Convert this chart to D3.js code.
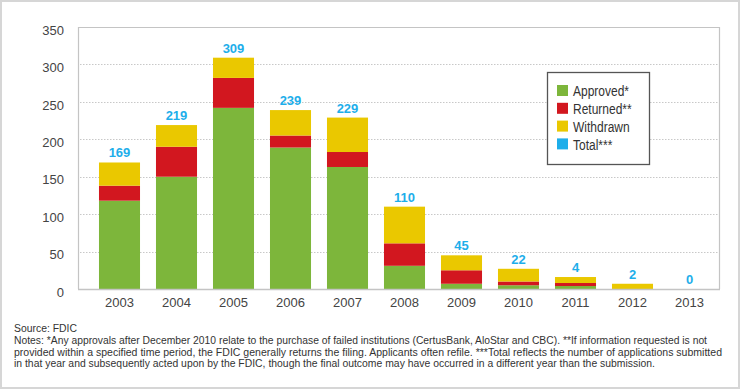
<!DOCTYPE html>
<html>
<head>
<meta charset="utf-8">
<script src="https://cdn.jsdelivr.net/npm/d3@7"></script>
<style>
  html, body { margin: 0; padding: 0; background: #fff; }
  svg { display: block; }
</style>
</head>
<body>
<script>
const years = ['2003', '2004', '2005', '2006', '2007', '2008', '2009', '2010', '2011', '2012', '2013'];
const approved = [118, 150, 242, 189, 163, 31, 7, 5, 4, 0, 0];
const returned = [20, 40, 40, 16, 20, 30, 18, 5, 4, 0, 0];
const withdrawn = [31, 29, 27, 34, 46, 49, 20, 17, 8, 7, 0];
const totals = [169, 219, 309, 239, 229, 110, 45, 22, 4, 2, 0];
const yTicks = [0, 50, 100, 150, 200, 250, 300, 350];
const seriesNames = ['Approved*', 'Returned**', 'Withdrawn', 'Total***'];
const seriesKeys = ['approved', 'returned', 'withdrawn'];
const sourceText = 'Source: FDIC';
const noteLines = [
    'Notes: *Any approvals after December 2010 relate to the purchase of failed institutions (CertusBank, AloStar and CBC). **If information requested is not',
    'provided within a specified time period, the FDIC generally returns the filing. Applicants often refile. ***Total reflects the number of applications submitted',
    'in that year and subsequently acted upon by the FDIC, though the final outcome may have occurred in a different year than the submission.'
];

const colors = {
    approved: '#7db63b',
    returned: '#d2171f',
    withdrawn: '#eac800',
    total: '#1eaeea'
};

function draw() {
    const width = 740;
    const height = 389;
    const plot = { left: 78, right: 719, top: 27, bottom: 289 };

    const rows = years.map((y, i) => ({
        year: y,
        approved: approved[i],
        returned: returned[i],
        withdrawn: withdrawn[i],
        total: totals[i]
    }));

    const x = d3.scaleBand()
        .domain(years)
        .range([91, 718])
        .paddingInner(0.28)
        .paddingOuter(0.14);
    const y = d3.scaleLinear().domain([0, 350]).range([plot.bottom, plot.top]);

    const svg = d3.select('body')
        .append('svg')
        .attr('width', width)
        .attr('height', height);

    // outer frame
    svg.append('rect')
        .attr('x', 1).attr('y', 1)
        .attr('width', width - 2).attr('height', height - 2)
        .attr('fill', '#fff')
        .attr('stroke', '#d6d6d6')
        .attr('stroke-width', 2);

    // dotted grid lines
    svg.append('g')
        .selectAll('line')
        .data(yTicks.filter(d => d > 0 && d < 350))
        .enter()
        .append('line')
        .attr('x1', plot.left + 2)
        .attr('x2', plot.right - 1)
        .attr('y1', d => Math.round(y(d)) + 0.5)
        .attr('y2', d => Math.round(y(d)) + 0.5)
        .attr('stroke', '#c8c8c8')
        .attr('stroke-dasharray', '1.5,1.5');

    // plot frame
    svg.append('path')
        .attr('d', `M${plot.left + 0.5},${plot.bottom}V${plot.top + 0.5}H${plot.right + 0.5}V${plot.bottom}`)
        .attr('fill', 'none')
        .attr('stroke', '#c4c4c4')
        .attr('stroke-width', 1.2);

    // stacked bars
    const stack = d3.stack().keys(seriesKeys)(rows);
    svg.append('g')
        .selectAll('g')
        .data(stack)
        .enter()
        .append('g')
        .attr('fill', d => colors[d.key])
        .selectAll('rect')
        .data(d => d)
        .enter()
        .append('rect')
        .attr('x', d => x(d.data.year))
        .attr('width', x.bandwidth())
        .attr('y', d => y(d[1]))
        .attr('height', d => y(d[0]) - y(d[1]));

    // baseline
    svg.append('line')
        .attr('x1', plot.left)
        .attr('x2', plot.right + 1)
        .attr('y1', plot.bottom + 0.5)
        .attr('y2', plot.bottom + 0.5)
        .attr('stroke', '#c4c4c4')
        .attr('stroke-width', 1.5);

    // total labels
    const top = stack[stack.length - 1];
    svg.append('g')
        .selectAll('text')
        .data(rows)
        .enter()
        .append('text')
        .attr('x', d => x(d.year) + x.bandwidth() / 2)
        .attr('y', (d, i) => y(top[i][1]) - 5)
        .attr('text-anchor', 'middle')
        .attr('font-family', 'Liberation Sans, Arial, sans-serif')
        .attr('font-weight', 'bold')
        .attr('font-size', 13)
        .attr('fill', colors.total)
        .text(d => d.total);

    // y axis
    const yAxis = d3.axisLeft(y).tickValues(yTicks).tickSize(0).tickPadding(14);
    const gy = svg.append('g')
        .attr('transform', 'translate(' + plot.left + ',0)')
        .call(yAxis);
    gy.select('.domain').remove();
    gy.selectAll('text')
        .attr('font-family', 'Liberation Sans, Arial, sans-serif')
        .attr('font-size', 13)
        .attr('fill', '#444')
        .attr('dy', '0.55em');

    // x axis
    const xAxis = d3.axisBottom(x).tickSize(0).tickPadding(9);
    const gx = svg.append('g')
        .attr('transform', 'translate(0,' + plot.bottom + ')')
        .call(xAxis);
    gx.select('.domain').remove();
    gx.selectAll('text')
        .attr('font-family', 'Liberation Sans, Arial, sans-serif')
        .attr('font-size', 13)
        .attr('fill', '#444');

    // legend
    const legend = svg.append('g').attr('transform', 'translate(547,72)');
    legend.append('rect')
        .attr('x', 0.5).attr('y', 0.5)
        .attr('width', 102).attr('height', 92)
        .attr('fill', '#fff')
        .attr('stroke', '#555')
        .attr('stroke-width', 1.3);
    const legendColors = [colors.approved, colors.returned, colors.withdrawn, colors.total];
    const items = legend.selectAll('g.item')
        .data(seriesNames)
        .enter()
        .append('g')
        .attr('class', 'item')
        .attr('transform', (d, i) => 'translate(10,' + (19 + i * 17.8) + ')');
    items.append('rect')
        .attr('x', 0).attr('y', -6)
        .attr('width', 11).attr('height', 11)
        .attr('fill', (d, i) => legendColors[i]);
    // condensed look: squeeze the regular face horizontally
    items.append('text')
        .attr('transform', 'translate(16,0) scale(0.8,1)')
        .attr('dy', '0.36em')
        .attr('font-family', 'Liberation Sans, Arial, sans-serif')
        .attr('font-size', 15)
        .attr('fill', '#333')
        .text(d => d);

    // source & notes (narrow face faked with a horizontal squeeze)
    const squeeze = 0.8;
    const noteWidths = [693, 708, 641];
    const notes = svg.append('g')
        .attr('transform', 'translate(14,0) scale(' + squeeze + ',1)')
        .attr('font-family', 'Liberation Sans, Arial, sans-serif')
        .attr('font-size', 11.5)
        .attr('fill', '#333');
    notes.append('text')
        .attr('x', 0).attr('y', 332)
        .attr('textLength', 63 / squeeze)
        .attr('lengthAdjust', 'spacingAndGlyphs')
        .text(sourceText);
    notes.selectAll('text.note')
        .data(noteLines)
        .enter()
        .append('text')
        .attr('class', 'note')
        .attr('x', 0)
        .attr('y', (d, i) => 344 + i * 11.7)
        .attr('textLength', (d, i) => noteWidths[i] / squeeze)
        .attr('lengthAdjust', 'spacingAndGlyphs')
        .text(d => d);
}

document.addEventListener('DOMContentLoaded', () => draw());
</script>
</body>
</html>
